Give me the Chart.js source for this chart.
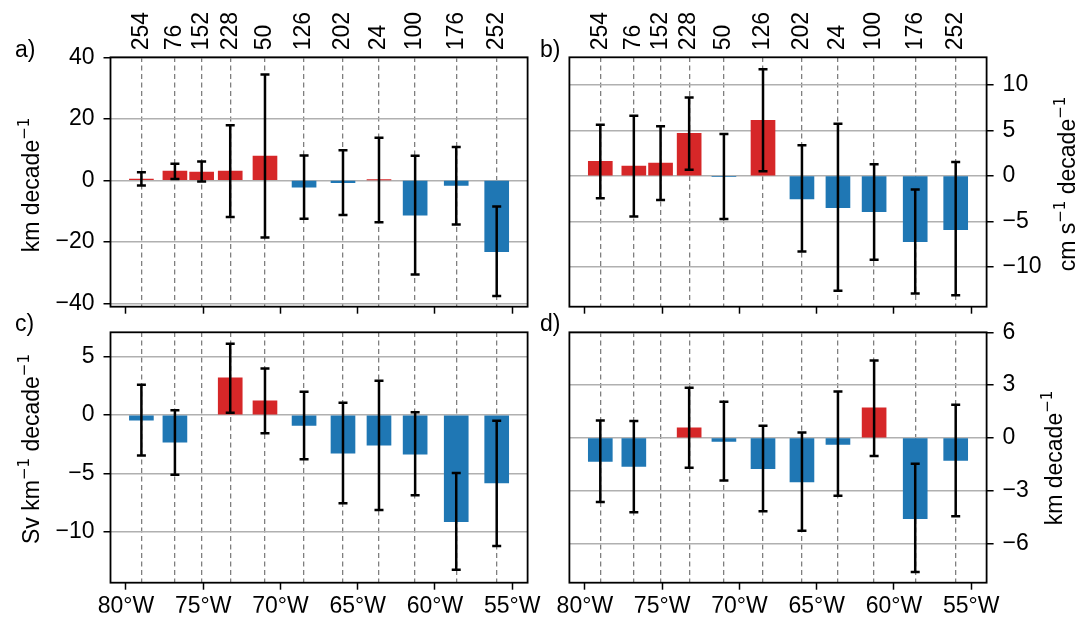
<!DOCTYPE html>
<html>
<head>
<meta charset="utf-8">
<script src="https://cdn.jsdelivr.net/npm/chart.js@4"></script>
<style>
  body { margin: 0; background: #fff; }
  #wrap { position: relative; width: 1091px; height: 621px; }
  #wrap canvas { position: absolute; left: 0; top: 0; }
</style>
</head>
<body>
<div id="wrap">
  <canvas id="pa" width="1091" height="621"></canvas>
  <canvas id="pb" width="1091" height="621"></canvas>
  <canvas id="pc" width="1091" height="621"></canvas>
  <canvas id="pd" width="1091" height="621"></canvas>
</div>
<script>
// stations (longitude) and their labels on the top axis
const stationLon = [-79.0, -76.83, -75.1, -73.25, -71.0, -68.47, -65.95, -63.62, -61.28, -58.62, -56.0];
const stationLabels = ['254', '76', '152', '228', '50', '126', '202', '24', '100', '176', '252'];
const lonTicks = [-80, -75, -70, -65, -60, -55];

// a) km decade-1
const aVal = [0.4, 3.0, 2.7, 3.0, 7.9, -2.2, -0.8, 0.1, -11.3, -1.7, -23.2];
const aLo  = [-1.7, 0.4, -0.4, -11.9, -18.6, -12.5, -11.3, -13.6, -30.6, -14.4, -37.6];
const aHi  = [2.6, 5.4, 6.1, 17.9, 34.4, 8.1, 9.8, 13.8, 8.0, 10.8, -8.5];
const aTicks = [-40, -20, 0, 20, 40];

// b) cm s-1 decade-1
const bVal = [1.6, 1.06, 1.39, 4.67, -0.07, 6.1, -2.52, -3.5, -3.94, -7.23, -5.9];
const bLo  = [-2.45, -4.45, -2.66, 0.66, -4.74, 0.5, -8.3, -12.6, -9.2, -12.9, -13.1];
const bHi  = [5.6, 6.6, 5.44, 8.58, 4.6, 11.7, 3.36, 5.7, 1.28, -1.5, 1.53];
const bTicks = [-10, -5, 0, 5, 10];

// c) Sv km-1 decade-1
const cVal = [-0.45, -2.33, null, 3.18, 1.22, -0.88, -3.27, -2.59, -3.35, -9.15, -5.82];
const cLo  = [-3.47, -5.11, null, 0.2, -1.56, -3.8, -7.56, -8.15, -6.88, -13.27, -11.22];
const cHi  = [2.6, 0.4, null, 6.1, 3.98, 2.0, 1.05, 2.93, 0.23, -4.97, -0.48];
const cTicks = [-10, -5, 0, 5];

// d) km decade-1
const dVal = [-1.35, -1.63, null, 0.57, -0.21, -1.75, -2.51, -0.38, 1.71, -4.6, -1.29];
const dLo  = [-3.65, -4.23, null, -1.71, -2.43, -4.18, -5.28, -3.3, -1.04, -7.63, -4.46];
const dHi  = [0.99, 0.95, null, 2.85, 2.05, 0.68, 0.3, 2.64, 4.4, -1.48, 1.88];
const dTicks = [-6, -3, 0, 3, 6];

const RED = '#d62728';
const BLUE = '#1f77b4';
const MAIN_FONT = '23px "Liberation Sans", Arial, sans-serif';
const SUP_FONT = '15px "DejaVu Sans", sans-serif';

Chart.defaults.font.family = '"Liberation Sans", Arial, sans-serif';
Chart.defaults.font.size = 23;
Chart.defaults.color = '#000';

const minus = v => (v < 0 ? '\u2212' + Math.abs(v) : String(v));

// y label with superscripts, rotated, baseline at bx, centred on cy
function drawYTitle(ctx, parts, bx, cy) {
  ctx.save();
  ctx.translate(bx, cy);
  ctx.rotate(-Math.PI / 2);
  ctx.fillStyle = '#000';
  ctx.textBaseline = 'alphabetic';
  const w = parts.map(p => { ctx.font = p[1] ? SUP_FONT : MAIN_FONT; return ctx.measureText(p[0]).width; });
  let total = w.reduce((s, v) => s + v, 0);
  let x = -total / 2;
  parts.forEach((p, i) => {
    ctx.font = p[1] ? SUP_FONT : MAIN_FONT;
    ctx.fillText(p[0], x, p[1] ? -10 : 0);
    x += w[i];
  });
  ctx.restore();
}

function makePanel(id, p) {
  const extras = {
    id: 'extras',
    afterDatasetsDraw(chart) {
      const ctx = chart.ctx, xs = chart.scales.x, ys = chart.scales.y;
      ctx.save();
      ctx.strokeStyle = '#000';
      ctx.lineWidth = 2.5;
      p.lo.forEach((lo, i) => {
        if (lo == null) return;
        const x = xs.getPixelForValue(stationLon[i]);
        const y1 = ys.getPixelForValue(lo), y2 = ys.getPixelForValue(p.hi[i]);
        ctx.beginPath();
        ctx.moveTo(x, y1); ctx.lineTo(x, y2);
        ctx.moveTo(x - 4.5, y1); ctx.lineTo(x + 4.5, y1);
        ctx.moveTo(x - 4.5, y2); ctx.lineTo(x + 4.5, y2);
        ctx.stroke();
      });
      ctx.restore();
    },
    afterDraw(chart) {
      const ctx = chart.ctx, a = chart.chartArea;
      ctx.save();
      ctx.strokeStyle = '#000';
      ctx.lineWidth = 1.8;
      ctx.strokeRect(a.left, a.top, a.right - a.left, a.bottom - a.top);
      ctx.font = MAIN_FONT;
      ctx.fillStyle = '#000';
      ctx.fillText(p.letter, p.letterX, p.letterY);
      ctx.restore();
      drawYTitle(ctx, p.title, p.titleX, p.titleY);
    }
  };

  return new Chart(document.getElementById(id), {
    type: 'bar',
    data: {
      datasets: [{
        data: stationLon.map((lon, i) => ({ x: lon, y: p.val[i] })),
        backgroundColor: c => (c.raw && c.raw.y >= 0 ? RED : BLUE),
        barThickness: 24,
        xAxisID: 'x',
        yAxisID: 'y'
      }]
    },
    options: {
      responsive: false,
      animation: false,
      devicePixelRatio: 1,
      layout: { padding: p.pad },
      plugins: { legend: { display: false }, tooltip: { enabled: false } },
      scales: {
        x: {
          type: 'linear', position: 'bottom', min: -81, max: -54, offset: false,
          afterBuildTicks: s => { s.ticks = lonTicks.map(v => ({ value: v })); },
          afterFit: s => { s.height = 30; s.paddingLeft = 0; s.paddingRight = 0; },
          grid: { offset: false, drawOnChartArea: false, drawTicks: true, tickLength: 7, tickWidth: 1.5, tickColor: '#000' },
          border: { display: false },
          ticks: { display: p.showLon, padding: 3, autoSkip: false, maxRotation: 0,
                   callback: v => Math.abs(v) + '°W' }
        },
        x2: {
          type: 'linear', position: 'top', min: -81, max: -54, offset: false,
          afterBuildTicks: s => { s.ticks = stationLon.map(v => ({ value: v })); },
          afterFit: s => { s.height = p.topH; s.paddingLeft = 0; s.paddingRight = 0; },
          grid: { offset: false, drawOnChartArea: true, drawTicks: false, color: '#7f7f7f', lineWidth: 1.3 },
          border: { display: false, dash: [5, 3.5] },
          ticks: { display: p.showStations, autoSkip: false, minRotation: 90, maxRotation: 90, padding: 7,
                   labelOffset: 27.6, callback: (v, i) => stationLabels[i] }
        },
        y: {
          type: 'linear', position: p.yPos, min: p.min, max: p.max,
          afterBuildTicks: s => { s.ticks = p.ticks.map(v => ({ value: v })); },
          afterFit: s => { s.width = 70; s.paddingTop = 0; s.paddingBottom = 0; },
          grid: { color: '#b0b0b0', lineWidth: 1.5, tickColor: '#000', tickLength: 7, tickWidth: 1.5 },
          border: { display: false },
          ticks: { padding: 9, callback: v => minus(v) }
        }
      }
    },
    plugins: [extras]
  });
}

makePanel('pa', {
  val: aVal, lo: aLo, hi: aHi, ticks: aTicks, min: -41.1, max: 40, yPos: 'left',
  topH: 57.3, showStations: true, showLon: false,
  pad: { left: 40.5, right: 563.4, top: 0, bottom: 284.3 },
  letter: 'a)', letterX: 15, letterY: 57,
  title: [['km decade', false], ['\u22121', true]], titleX: 38.5, titleY: 185
});
makePanel('pb', {
  val: bVal, lo: bLo, hi: bHi, ticks: bTicks, min: -14.35, max: 13, yPos: 'right',
  topH: 57.3, showStations: true, showLon: false,
  pad: { left: 569.4, right: 34.4, top: 0, bottom: 284.3 },
  letter: 'b)', letterX: 540, letterY: 57,
  title: [['cm s', false], ['\u22121', true], [' decade', false], ['\u22121', true]], titleX: 1075, titleY: 184
});
makePanel('pc', {
  val: cVal, lo: cLo, hi: cHi, ticks: cTicks, min: -14.37, max: 7.09, yPos: 'left',
  topH: 10, showStations: false, showLon: true,
  pad: { left: 40.5, right: 563.4, top: 322.3, bottom: 8.3 },
  letter: 'c)', letterX: 15, letterY: 331,
  title: [['Sv km', false], ['\u22121', true], [' decade', false], ['\u22121', true]], titleX: 38.5, titleY: 449
});
makePanel('pd', {
  val: dVal, lo: dLo, hi: dHi, ticks: dTicks, min: -8.24, max: 6, yPos: 'right',
  topH: 10, showStations: false, showLon: true,
  pad: { left: 569.4, right: 34.4, top: 322.3, bottom: 8.3 },
  letter: 'd)', letterX: 540, letterY: 331,
  title: [['km decade', false], ['\u22121', true]], titleX: 1061.5, titleY: 458
});
</script>
</body>
</html>
